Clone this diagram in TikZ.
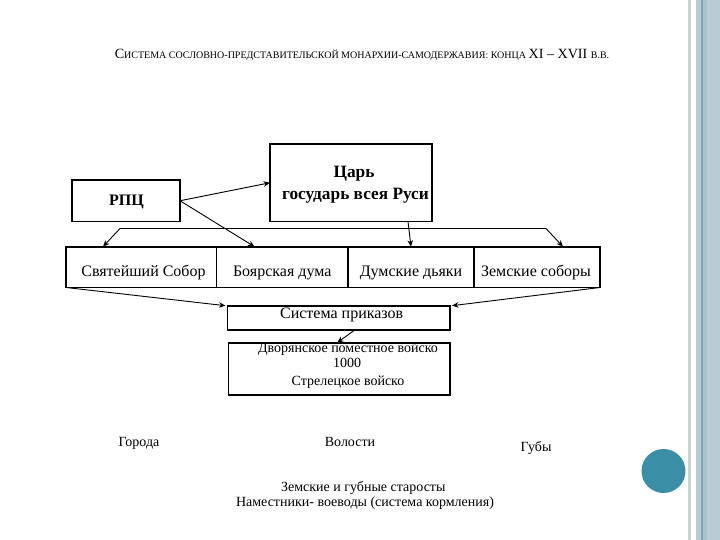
\documentclass[tikz,border=0pt]{standalone}
\usepackage{fontspec}
\setmainfont{Liberation Serif}
\usetikzlibrary{arrows.meta,calc}
\definecolor{bandcol}{HTML}{B7CCD5}
\definecolor{thincol}{HTML}{C3D4DB}
\definecolor{darkline}{HTML}{7EA8B8}
\definecolor{midline}{HTML}{A8C4D0}
\definecolor{dotcol}{HTML}{3A8FA6}
\begin{document}
\begin{tikzpicture}[x=1pt,y=-1pt,
  box/.style={draw,line width=1.6pt,inner sep=0pt,outer sep=0pt},
  arr/.style={line width=0.9pt,-{Stealth[length=6.5pt,width=5.5pt]}},
  arrs/.style={line width=0.9pt,{Stealth[length=6.5pt,width=5.5pt]}-{Stealth[length=6.5pt,width=5.5pt]}},
  bt/.style={anchor=base,inner sep=0pt,font=\fontsize{17.3}{19}\selectfont\bfseries},
  rt/.style={anchor=base,inner sep=0pt,font=\fontsize{16}{18}\selectfont},
  st/.style={anchor=base,inner sep=0pt,font=\fontsize{14}{15}\selectfont},
  lt/.style={anchor=base,inner sep=0pt,font=\fontsize{14}{16}\selectfont}]
\useasboundingbox (0,0) rectangle (720,540);
% right decoration
\fill[thincol] (688,0) rectangle (691,540);
\fill[bandcol] (696,0) rectangle (720,540);
\fill[darkline] (700.5,0) rectangle (703,540);
\fill[midline] (703,0) rectangle (707,540);
\fill[dotcol] (663.5,471) circle (22);
% title
\node[anchor=base,inner sep=0pt] (title) at (362,59) {\fontsize{14.1}{15}\selectfont С\fontsize{10}{11}\selectfont ИСТЕМА СОСЛОВНО-ПРЕДСТАВИТЕЛЬСКОЙ МОНАРХИИ-САМОДЕРЖАВИЯ: КОНЦА \fontsize{14.1}{15}\selectfont XI – XVII \fontsize{10}{11}\selectfont В.В.};
% boxes
\node[box,minimum width=108pt,minimum height=41.5pt] (rpc) at (126,200.75) {};
\node[box,minimum width=162pt,minimum height=77.5pt] (tsar) at (351,182.75) {};
\node[box,minimum width=150.5pt,minimum height=40.8pt] (sobor) at (141.25,267.1) {};
\node[box,minimum width=131.5pt,minimum height=40.8pt] (boyar) at (282.25,267.1) {};
\node[box,minimum width=126pt,minimum height=40.8pt] (dyaki) at (411,267.1) {};
\node[box,minimum width=126pt,minimum height=40.8pt] (zemsk) at (537,267.1) {};
\node[box,minimum width=222.5pt,minimum height=24.3pt] (prikaz) at (338.75,317.85) {};
\node[box,minimum width=221.7pt,minimum height=52.3pt] (army) at (339.15,368.85) {};
% texts
\node[anchor=base,inner sep=0pt,font=\fontsize{16}{18}\selectfont\bfseries] (trpc) at (126.5,205.5) {РПЦ};
\node[bt] (ttsar1) at (354,177.7) {Царь};
\node[bt] (ttsar2) at (355.5,200) {государь всея Руси};
\node[rt] (tsobor) at (143.5,276.7) {Святейший Собор};
\node[rt] (tboyar) at (282.25,276.7) {Боярская дума};
\node[rt] (tdyaki) at (411,276.7) {Думские дьяки};
\node[rt] (tzemsk) at (536,276.7) {Земские соборы};
\node[anchor=base,inner sep=0pt,font=\fontsize{16}{18}\selectfont] (tprikaz) at (341.7,318.5) {Система приказов};
\node[st] (tarmy1) at (348,352.7) {Дворянское поместное войско};
\node[st] (tarmy2) at (347,367.3) {1000};
\node[st] (tarmy3) at (348,385) {Стрелецкое войско};
\node[lt] (goroda) at (139,446) {Города};
\node[lt] (volosti) at (350,446) {Волости};
\node[lt] (guby) at (536,451.7) {Губы};
\node[lt] (star) at (363.3,491.7) {Земские и губные старосты};
\node[lt] (namest) at (365,506.7) {Наместники- воеводы (система кормления)};
% connectors
\draw[arr] (rpc.east) -- (tsar.west);
\draw[arr] (rpc.east) -- ($(boyar.north west)+(38,0)$);
\draw[arr] ($(tsar.south east)+(-24,0)$) -- (dyaki.north);
\coordinate (bl) at ($(rpc.south west)+(48,7)$);
\coordinate (br) at ($(tsar.south east)+(114,7)$);
\draw[arrs] ($(sobor.north west)+(37,0)$) -- (bl) -- (br) -- ($(zemsk.north west)+(89,0)$);
\draw[arr] (sobor.south west) -- ($(prikaz.north west)+(-2,0)$);
\draw[arr] (zemsk.south east) -- ($(prikaz.north east)+(2,0)$);
\draw[arr] ($(prikaz.south)+(16,0)$) -- ($(army.north)+(-2,0)$);
\end{tikzpicture}
\end{document}
